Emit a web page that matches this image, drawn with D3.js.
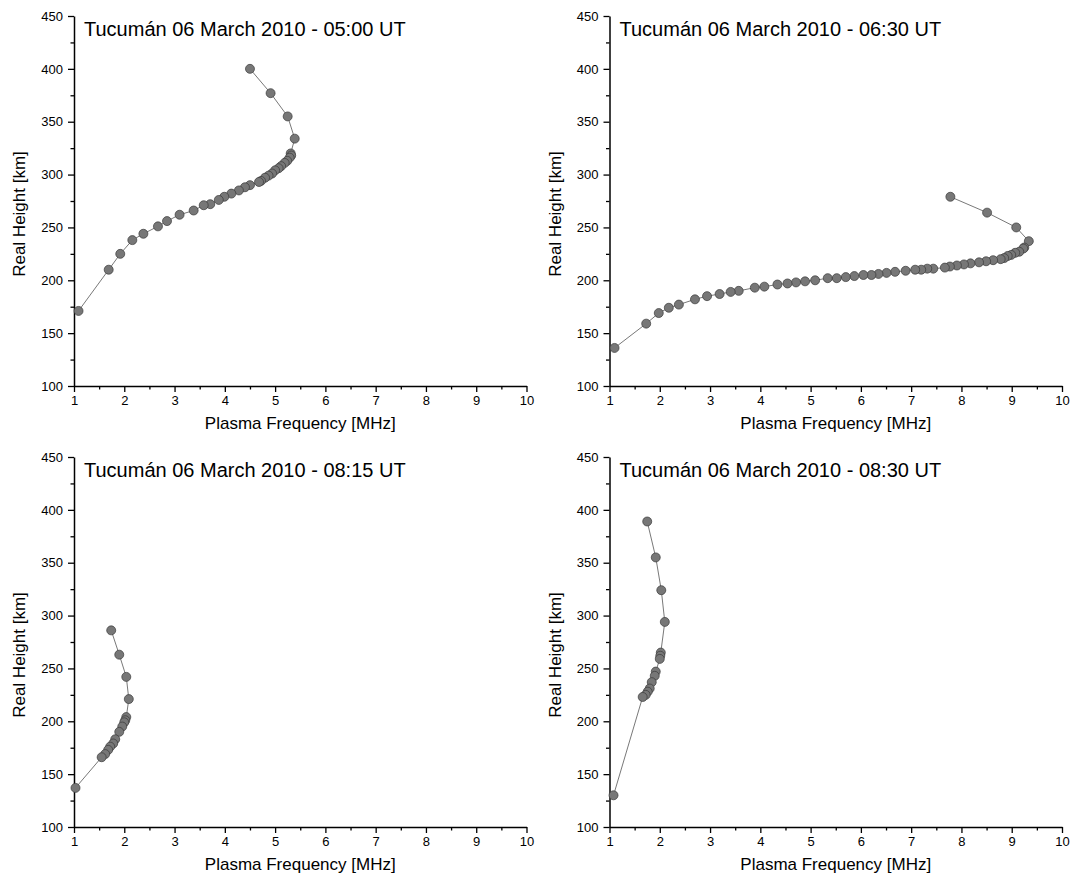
<!DOCTYPE html>
<html><head><meta charset="utf-8">
<script src="https://cdn.jsdelivr.net/npm/d3@7"></script>
<style>body{margin:0;background:#fff}svg{display:block;font-family:Arial,"Liberation Sans",sans-serif}</style>
</head><body><svg id="c" width="1073" height="882"></svg>
<script>
const xTicks = [1,2,3,4,5,6,7,8,9,10];
const yTicks = [100,150,200,250,300,350,400,450];
const titles = ["Tucumán 06 March 2010 - 05:00 UT","Tucumán 06 March 2010 - 06:30 UT","Tucumán 06 March 2010 - 08:15 UT","Tucumán 06 March 2010 - 08:30 UT"];

const f0500 = [4.50,4.91,5.25,5.39,5.31,5.32,5.29,5.24,5.19,5.12,5.07,5.00,4.94,4.87,4.80,4.72,4.68,4.50,4.40,4.28,4.13,3.99,3.88,3.71,3.58,3.38,3.10,2.85,2.67,2.38,2.16,1.92,1.69,1.09];
const h0500 = [400,377,355,334,320,318,316,313,311,308,306,304,301,299,297,294,293,290,288,285,282,279,276,272,271,266,262,256,251,244,238,225,210,171];

const f0630 = [7.78,8.51,9.09,9.34,9.25,9.23,9.15,9.07,8.99,8.92,8.85,8.78,8.63,8.49,8.35,8.18,8.05,7.91,7.77,7.67,7.44,7.32,7.20,7.08,6.89,6.68,6.51,6.35,6.21,6.05,5.87,5.70,5.52,5.34,5.09,4.89,4.71,4.54,4.34,4.08,3.89,3.57,3.41,3.19,2.94,2.70,2.38,2.18,1.98,1.73,1.10];
const h0630 = [279,264,250,237,231,230,227,226,224,223,221,220,219,218,217,216,215,214,213,212,211,211,210,210,209,208,207,206,205,205,204,203,202,202,200,199,198,197,196,194,193,190,189,187,185,182,177,174,169,159,136];

const f0815 = [1.74,1.90,2.04,2.09,2.04,2.02,2.00,1.96,1.90,1.82,1.78,1.72,1.68,1.62,1.55,1.03];
const h0815 = [286,263,242,221,204,201,199,195,190,183,179,176,173,169,166,137];

const f0830 = [1.75,1.92,2.03,2.10,2.02,2.01,2.00,1.92,1.90,1.84,1.80,1.76,1.72,1.66,1.08];
const h0830 = [389,355,324,294,265,262,259,247,243,237,231,228,225,223,130];

const panels = [
  {f:f0500,h:h0500,t:titles[0],x0:74,y0:16},
  {f:f0630,h:h0630,t:titles[1],x0:609.5,y0:16},
  {f:f0815,h:h0815,t:titles[2],x0:74,y0:457},
  {f:f0830,h:h0830,t:titles[3],x0:609.5,y0:457}
];
const W = 452.5, H = 370;
const svg = d3.select("#c");

panels.forEach(p => {
  const g = svg.append("g").attr("transform",`translate(${p.x0},${p.y0})`);
  const x = d3.scaleLinear().domain([1,10]).range([0,W]);
  const y = d3.scaleLinear().domain([100,450]).range([H,0]);

  const xMinor = d3.range(1.5,10,1);
  const yMinor = d3.range(125,450,50);
  const gxm = g.append("g").attr("transform",`translate(0,${H})`)
    .call(d3.axisBottom(x).tickValues(xMinor).tickSize(3.5).tickFormat(""));
  gxm.select(".domain").remove();
  const gym = g.append("g").call(d3.axisLeft(y).tickValues(yMinor).tickSize(3.5).tickFormat(""));
  gym.select(".domain").remove();

  const gx = g.append("g").attr("transform",`translate(0,${H})`)
    .call(d3.axisBottom(x).tickValues(xTicks).tickSize(6).tickSizeOuter(0).tickPadding(4).tickFormat(d3.format("d")));
  const gy = g.append("g")
    .call(d3.axisLeft(y).tickValues(yTicks).tickSize(6).tickSizeOuter(0).tickPadding(5));
  [gx,gy,gxm,gym].forEach(a=>{
    a.selectAll("text").attr("font-size",13).attr("fill","#000").attr("font-family","Arial, Liberation Sans, sans-serif");
    a.selectAll("line").attr("stroke","#000").attr("stroke-width",1.3);
    a.select(".domain").attr("stroke","#000").attr("stroke-width",1.5);
  });

  const line = d3.line().x((d,i)=>x(p.f[i])).y((d,i)=>y(p.h[i]));
  g.append("path").datum(p.f).attr("d",line).attr("fill","none").attr("stroke","#555").attr("stroke-width",0.8);
  g.selectAll("circle").data(p.f).enter().append("circle")
    .attr("cx",(d,i)=>x(p.f[i])).attr("cy",(d,i)=>y(p.h[i])).attr("r",4.5)
    .attr("fill","#777").attr("stroke","#3a3a3a").attr("stroke-width",0.7);

  g.append("text").attr("x",10).attr("y",20).attr("font-size",20).attr("fill","#000").text(p.t);
  g.append("text").attr("x",W/2).attr("y",H+43).attr("text-anchor","middle").attr("font-size",17).text("Plasma Frequency [MHz]");
  g.append("text").attr("transform",`translate(-49,${H/2+13}) rotate(-90)`).attr("text-anchor","middle").attr("font-size",17).text("Real Height [km]");
});
</script></body></html>
